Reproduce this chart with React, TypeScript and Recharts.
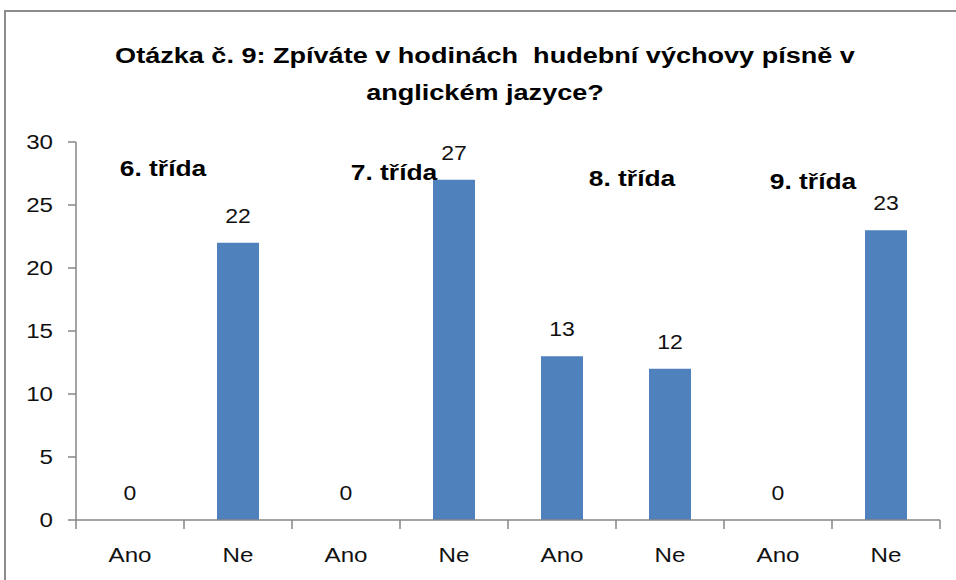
import React from 'react';
import { ComposedChart, Bar, Line, XAxis, YAxis, ReferenceDot } from 'recharts';

// odpovědi po třídách (Ano / Ne)
const answers = ['Ano', 'Ne', 'Ano', 'Ne', 'Ano', 'Ne', 'Ano', 'Ne'];
const counts = [0, 22, 0, 27, 13, 12, 0, 23];
const classNames = ['6. třída', '7. třída', '8. třída', '9. třída'];
const yTicks = [0, 5, 10, 15, 20, 25, 30];

const title1 = 'Otázka č. 9: Zpíváte v hodinách  hudební výchovy písně v';
const title2 = 'anglickém jazyce?';

const FONT = "'Liberation Sans', Arial, sans-serif";
const AXIS = '#868686';
const BLUE = '#4F81BD';
const TEXT = '#111';

const W = 956;
const H = 580;
const MARGIN = { top: 142, right: 16, bottom: 20, left: 0 };
const Y_WIDTH = 76;
const PLOT_W = W - MARGIN.left - MARGIN.right - Y_WIDTH;
const BAND = PLOT_W / answers.length;

// the source picture is a bit stretched sideways
const SX = 1.15;

// where the class captions sit (value level + shift from the "Ano" column)
const captionPos = [
  { y: 27.9, dx: 33 },
  { y: 27.6, dx: 48 },
  { y: 27.1, dx: 70 },
  { y: 26.9, dx: 35 },
];

const data = answers.map((a, i) => ({ id: String(i), answer: a, value: counts[i] }));

const StretchText = ({ x, y, sx = SX, children, ...rest }: any) => (
  <text transform={`translate(${x},${y}) scale(${sx},1)`} x={0} y={0} fontFamily={FONT} {...rest}>
    {children}
  </text>
);

const XTick = (props: any) => {
  const { x, y, payload, index } = props;
  const left = x - BAND / 2;
  const right = x + BAND / 2;
  return (
    <g>
      <line x1={left} x2={left} y1={y} y2={y + 9} stroke={AXIS} strokeWidth={1.5} />
      {index === answers.length - 1 && (
        <line x1={right} x2={right} y1={y} y2={y + 9} stroke={AXIS} strokeWidth={1.5} />
      )}
      <StretchText x={x} y={y + 42} textAnchor="middle" fontSize={21} fill={TEXT}>
        {answers[Number(payload.value)]}
      </StretchText>
    </g>
  );
};

const YTick = (props: any) => {
  const { x, y, payload } = props;
  return (
    <StretchText x={x} y={y} textAnchor="end" dominantBaseline="central" fontSize={21} fill={TEXT}>
      {payload.value}
    </StretchText>
  );
};

// value labels hang off an invisible line so that zero columns get one too
const valueLabel = (p: any) => (
  <StretchText key={`lbl-${p.index}`} x={p.x} y={p.y - 20} textAnchor="middle" fontSize={20} fill={TEXT}>
    {p.value}
  </StretchText>
);

export default function App() {
  return (
    <div style={{ position: 'absolute', left: 0, top: 0, width: W, height: H, overflow: 'hidden', background: '#fff' }}>
      <div
        style={{
          position: 'absolute',
          left: 4,
          top: 10,
          width: W + 20,
          height: H + 20,
          borderLeft: '2px solid #8c8c8c',
          borderTop: '2px solid #8c8c8c',
        }}
      />
      <div
        style={{
          position: 'absolute',
          left: 0,
          top: 37,
          width: 970,
          textAlign: 'center',
          fontFamily: FONT,
          fontWeight: 'bold',
          fontSize: 22,
          lineHeight: '37px',
          color: '#000',
          whiteSpace: 'pre',
          transform: 'scaleX(1.23)',
          transformOrigin: '485px 0',
        }}
      >
        {title1}
        <br />
        {title2}
      </div>
      <div style={{ position: 'absolute', left: 0, top: 0 }}>
        <ComposedChart width={W} height={H} data={data} margin={MARGIN}>
          <XAxis
            dataKey="id"
            axisLine={{ stroke: AXIS, strokeWidth: 1.5 }}
            tickLine={false}
            tickSize={0}
            tickMargin={0}
            height={40}
            interval={0}
            tick={<XTick />}
          />
          <YAxis
            width={Y_WIDTH}
            domain={[0, 30]}
            ticks={yTicks}
            interval={0}
            axisLine={{ stroke: AXIS, strokeWidth: 1.5 }}
            tickLine={{ stroke: AXIS, strokeWidth: 1.5 }}
            tickSize={8}
            tickMargin={15}
            tick={<YTick />}
          />
          <Bar dataKey="value" fill={BLUE} barSize={42} isAnimationActive={false} />
          <Line
            dataKey="value"
            stroke="none"
            dot={false}
            activeDot={false}
            label={valueLabel}
            isAnimationActive={false}
          />
          {classNames.map((name, k) => (
            <ReferenceDot
              key={name}
              x={String(k * 2)}
              y={captionPos[k].y}
              r={0}
              shape={(p: any) => (
                <StretchText
                  x={p.cx + captionPos[k].dx}
                  y={p.cy}
                  sx={1.2}
                  textAnchor="middle"
                  dominantBaseline="central"
                  fontSize={22}
                  fontWeight="bold"
                  fill="#000"
                >
                  {name}
                </StretchText>
              )}
            />
          ))}
        </ComposedChart>
      </div>
    </div>
  );
}
